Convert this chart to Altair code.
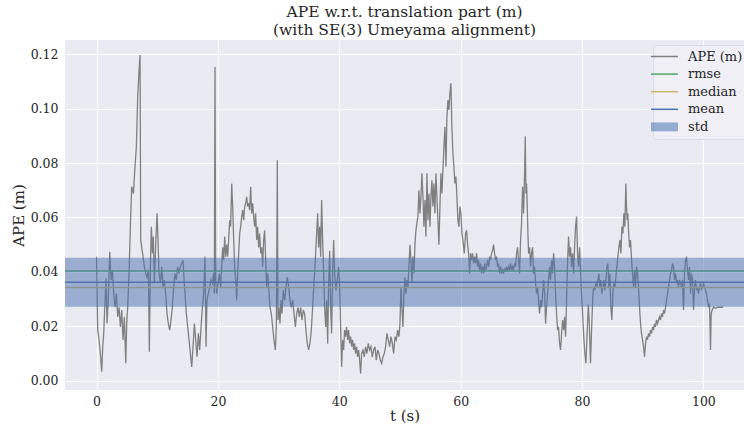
import altair as alt
import pandas as pd

# ---- APE (m) time series, as (t [s], APE [m]) pairs ----
ape_0_20 = [
    (0.0, 0.0456), (0.19, 0.0186), (0.41, 0.015), (0.63, 0.010), (0.85, 0.0033), (1.02, 0.0125),
    (1.18, 0.0174), (1.40, 0.0296), (1.57, 0.0376), (1.73, 0.021), (1.95, 0.031), (2.17, 0.0474),
    (2.39, 0.037), (2.61, 0.0407), (2.83, 0.032), (3.05, 0.027), (3.27, 0.032), (3.49, 0.0235),
    (3.71, 0.027), (3.93, 0.0198), (4.15, 0.026), (4.37, 0.015), (4.59, 0.0235), (4.81, 0.0064),
    (4.97, 0.021), (5.13, 0.027), (5.35, 0.0394), (5.57, 0.0566), (5.79, 0.0713), (6.07, 0.0688),
    (6.34, 0.0786), (6.56, 0.086), (6.78, 0.104), (7.00, 0.114), (7.17, 0.1197), (7.28, 0.0517),
    (7.44, 0.049), (7.66, 0.0456), (7.88, 0.0419), (8.10, 0.0394), (8.32, 0.038), (8.54, 0.0407),
    (8.70, 0.0107), (8.87, 0.0419), (9.03, 0.0566), (9.20, 0.0468), (9.36, 0.053), (9.53, 0.0358),
    (9.75, 0.050), (9.97, 0.0615), (10.13, 0.0517), (10.30, 0.0394), (10.52, 0.0358), (10.74, 0.0419),
    (10.96, 0.0345), (11.17, 0.037), (11.39, 0.032), (11.61, 0.0247), (11.83, 0.021), (12.05, 0.0186),
    (12.27, 0.0223), (12.49, 0.027), (12.71, 0.0345), (12.93, 0.0394), (13.15, 0.037), (13.37, 0.0419),
    (13.59, 0.0394), (13.81, 0.0419), (14.03, 0.0431), (14.25, 0.0443), (14.42, 0.037), (14.58, 0.032),
    (14.80, 0.0247), (15.02, 0.0198), (15.24, 0.015), (15.46, 0.010), (15.68, 0.0051), (15.90, 0.0125),
    (16.12, 0.021), (16.34, 0.015), (16.56, 0.0088), (16.78, 0.0174), (17.00, 0.0113), (17.22, 0.0198),
    (17.44, 0.027), (17.65, 0.032), (17.87, 0.0456), (18.04, 0.0125), (18.20, 0.0296), (18.42, 0.032),
    (18.64, 0.0345), (18.86, 0.037), (19.08, 0.0358), (19.30, 0.0394),
]
ape_20_40 = [
    (19.41, 0.032), (19.52, 0.1153), (19.63, 0.037), (19.80, 0.032), (20.02, 0.0358), (20.24, 0.0394),
    (20.46, 0.0345), (20.62, 0.0419), (20.79, 0.049), (20.95, 0.0443), (21.12, 0.053), (21.28, 0.0456),
    (21.45, 0.050), (21.61, 0.0456), (21.77, 0.0517), (21.94, 0.059), (22.10, 0.0566), (22.27, 0.0725),
    (22.43, 0.064), (22.60, 0.0517), (22.76, 0.0419), (22.93, 0.037), (23.09, 0.0296), (23.26, 0.0394),
    (23.42, 0.0468), (23.59, 0.0541), (23.75, 0.0566), (23.92, 0.0603), (24.08, 0.0627), (24.25, 0.059),
    (24.41, 0.064), (24.57, 0.0652), (24.74, 0.0676), (24.90, 0.064), (25.07, 0.0652), (25.23, 0.0627),
    (25.40, 0.0713), (25.56, 0.0615), (25.73, 0.0652), (25.89, 0.0603), (26.06, 0.0566), (26.22, 0.0615),
    (26.39, 0.0517), (26.55, 0.0566), (26.72, 0.049), (26.88, 0.0541), (27.05, 0.0468), (27.21, 0.049),
    (27.37, 0.0419), (27.54, 0.0517), (27.70, 0.0553), (27.87, 0.0443), (28.03, 0.0345), (28.20, 0.0394),
    (28.36, 0.0345), (28.58, 0.027), (28.80, 0.0247), (29.02, 0.0198), (29.24, 0.015), (29.46, 0.0113),
    (29.63, 0.0198), (29.79, 0.081), (29.90, 0.0223), (30.07, 0.027), (30.23, 0.021), (30.40, 0.0296),
    (30.56, 0.0247), (30.78, 0.0333), (31.00, 0.0296), (31.22, 0.0345), (31.44, 0.038), (31.66, 0.0345),
    (31.88, 0.0296), (32.10, 0.027), (32.32, 0.0296), (32.54, 0.0247), (32.76, 0.0198), (32.98, 0.0247),
    (33.20, 0.027), (33.42, 0.0235), (33.64, 0.027), (33.85, 0.0223), (34.07, 0.026), (34.29, 0.0247),
    (34.51, 0.0186), (34.73, 0.0137), (34.95, 0.0113), (35.17, 0.0137), (35.39, 0.0186), (35.61, 0.027),
    (35.83, 0.0358), (36.05, 0.0443), (36.27, 0.0541), (36.44, 0.0615), (36.60, 0.049), (36.77, 0.0566),
    (36.93, 0.0456), (37.09, 0.0664), (37.26, 0.0517), (37.43, 0.0394), (37.59, 0.027), (37.76, 0.0198),
    (37.92, 0.0296), (38.09, 0.0137), (38.25, 0.0358), (38.42, 0.0478), (38.58, 0.027), (38.74, 0.0174),
    (38.91, 0.0394), (39.07, 0.0517), (39.24, 0.0394), (39.45, 0.0333), (39.67, 0.037), (39.89, 0.0419),
]
ape_40_60 = [
    (40.06, 0.0345), (40.22, 0.0198), (40.39, 0.0051), (40.55, 0.015), (40.72, 0.0113), (40.88, 0.0186),
    (41.05, 0.0162), (41.21, 0.0198), (41.38, 0.015), (41.54, 0.0186), (41.71, 0.0137), (41.87, 0.0162),
    (42.04, 0.0125), (42.20, 0.015), (42.37, 0.0113), (42.53, 0.0137), (42.69, 0.010), (42.86, 0.0125),
    (43.02, 0.0088), (43.19, 0.0113), (43.35, 0.0076), (43.52, 0.0027), (43.68, 0.010), (43.90, 0.0113),
    (44.12, 0.0088), (44.34, 0.0125), (44.56, 0.010), (44.78, 0.0137), (45.00, 0.0113), (45.22, 0.0125),
    (45.44, 0.0088), (45.66, 0.0113), (45.88, 0.0125), (46.10, 0.0076), (46.32, 0.0113), (46.54, 0.010),
    (46.76, 0.0076), (46.98, 0.0064), (47.20, 0.0088), (47.42, 0.010), (47.64, 0.0125), (47.86, 0.0174),
    (48.08, 0.015), (48.30, 0.0125), (48.52, 0.0162), (48.74, 0.0137), (48.96, 0.010), (49.18, 0.0162),
    (49.40, 0.015), (49.62, 0.0186), (49.84, 0.0162), (50.00, 0.021), (50.17, 0.0345), (50.33, 0.027),
    (50.49, 0.0198), (50.66, 0.032), (50.82, 0.038), (50.99, 0.032), (51.15, 0.037), (51.32, 0.0345),
    (51.48, 0.0419), (51.65, 0.050), (51.81, 0.0443), (51.98, 0.0358), (52.14, 0.0456), (52.31, 0.0394),
    (52.47, 0.050), (52.63, 0.0553), (52.80, 0.0578), (52.96, 0.0603), (53.13, 0.070), (53.29, 0.0615),
    (53.46, 0.0676), (53.62, 0.0762), (53.79, 0.0676), (53.95, 0.0566), (54.12, 0.0664), (54.28, 0.053),
    (54.45, 0.0762), (54.61, 0.059), (54.78, 0.0688), (54.94, 0.0566), (55.11, 0.0676), (55.27, 0.0737),
    (55.43, 0.064), (55.60, 0.0725), (55.76, 0.0615), (55.93, 0.0762), (56.09, 0.0676), (56.26, 0.059),
    (56.42, 0.050), (56.59, 0.064), (56.75, 0.0762), (56.92, 0.0688), (57.08, 0.0774), (57.25, 0.086),
    (57.41, 0.0933), (57.58, 0.0786), (57.74, 0.097), (57.91, 0.1031), (58.07, 0.0995), (58.23, 0.1056),
    (58.40, 0.1093), (58.56, 0.0933), (58.73, 0.0835), (58.89, 0.0786), (59.06, 0.0725), (59.22, 0.075),
    (59.39, 0.0676), (59.55, 0.059), (59.72, 0.0566), (59.88, 0.064), (60.05, 0.0615), (60.21, 0.0541),
    (60.38, 0.0517), (60.60, 0.0468),
]
ape_60_80 = [
    (60.82, 0.0541), (60.98, 0.0553), (61.15, 0.050), (61.31, 0.0468), (61.48, 0.0394), (61.64, 0.0468),
    (61.81, 0.0443), (61.97, 0.0468), (62.14, 0.0431), (62.30, 0.0456), (62.47, 0.0431), (62.63, 0.0468),
    (62.80, 0.0419), (62.96, 0.0443), (63.12, 0.0407), (63.29, 0.0431), (63.45, 0.0394), (63.62, 0.0419),
    (63.78, 0.0394), (63.95, 0.0431), (64.11, 0.0407), (64.28, 0.0419), (64.44, 0.0443), (64.61, 0.0419),
    (64.77, 0.0456), (64.94, 0.0443), (65.10, 0.0468), (65.27, 0.048), (65.43, 0.050), (65.60, 0.0468),
    (65.76, 0.0443), (65.93, 0.0456), (66.09, 0.0419), (66.25, 0.0431), (66.42, 0.0394), (66.58, 0.0419),
    (66.75, 0.0394), (66.91, 0.0407), (67.08, 0.0394), (67.24, 0.0413), (67.41, 0.040), (67.57, 0.0419),
    (67.74, 0.0407), (67.90, 0.0419), (68.07, 0.0407), (68.23, 0.0431), (68.40, 0.0407), (68.56, 0.0419),
    (68.72, 0.0407), (68.89, 0.0431), (69.05, 0.0419), (69.22, 0.0468), (69.38, 0.049), (69.55, 0.0443),
    (69.71, 0.0394), (69.88, 0.0517), (70.04, 0.0578), (70.21, 0.0713), (70.37, 0.0615), (70.54, 0.0762),
    (70.65, 0.0897), (70.76, 0.0688), (70.87, 0.0725), (70.98, 0.064), (71.09, 0.0541), (71.20, 0.0468),
    (71.37, 0.049), (71.53, 0.0419), (71.69, 0.0468), (71.86, 0.049), (72.02, 0.0394), (72.19, 0.0419),
    (72.35, 0.0358), (72.52, 0.032), (72.68, 0.0345), (72.85, 0.0296), (73.01, 0.0247), (73.18, 0.0296),
    (73.34, 0.027), (73.51, 0.032), (73.67, 0.037), (73.84, 0.032), (74.00, 0.021), (74.16, 0.027),
    (74.33, 0.032), (74.49, 0.037), (74.66, 0.0419), (74.82, 0.037), (74.99, 0.0443), (75.15, 0.0394),
    (75.32, 0.0468), (75.48, 0.0419), (75.65, 0.032), (75.81, 0.0247), (75.98, 0.0186), (76.14, 0.0198),
    (76.31, 0.0137), (76.47, 0.0113), (76.64, 0.0174), (76.80, 0.0223), (76.97, 0.0186), (77.13, 0.0235),
    (77.30, 0.0162), (77.46, 0.0296), (77.62, 0.0431), (77.79, 0.053), (77.95, 0.0456), (78.12, 0.049),
    (78.28, 0.0419), (78.45, 0.0468), (78.61, 0.0394), (78.78, 0.049), (78.94, 0.0566), (79.11, 0.0603),
    (79.27, 0.0468), (79.44, 0.0419), (79.60, 0.049), (79.77, 0.0394), (79.93, 0.032), (80.10, 0.0247),
    (80.26, 0.0174), (80.43, 0.0113),
]
ape_80_end = [
    (80.64, 0.0064), (80.86, 0.018), (81.05, 0.028), (81.22, 0.020), (81.40, 0.0064), (81.60, 0.020),
    (81.80, 0.032), (81.96, 0.0345), (82.13, 0.0333), (82.29, 0.0358), (82.46, 0.0345), (82.62, 0.037),
    (82.79, 0.0394), (82.95, 0.0345), (83.11, 0.037), (83.28, 0.032), (83.44, 0.0345), (83.61, 0.037),
    (83.77, 0.0333), (83.94, 0.037), (84.10, 0.0419), (84.27, 0.0431), (84.43, 0.0345), (84.60, 0.0394),
    (84.76, 0.027), (84.93, 0.0223), (85.09, 0.032), (85.26, 0.0358), (85.42, 0.0345), (85.59, 0.038),
    (85.75, 0.0419), (85.92, 0.0456), (86.08, 0.049), (86.25, 0.0517), (86.41, 0.0468), (86.58, 0.0566),
    (86.74, 0.0541), (86.91, 0.0615), (87.07, 0.0566), (87.23, 0.0725), (87.34, 0.064), (87.45, 0.059),
    (87.56, 0.0615), (87.67, 0.0553), (87.84, 0.049), (88.00, 0.0517), (88.17, 0.0443), (88.33, 0.0394),
    (88.50, 0.0345), (88.66, 0.0407), (88.83, 0.0345), (88.99, 0.0419), (89.15, 0.0394), (89.32, 0.0345),
    (89.48, 0.027), (89.65, 0.021), (89.81, 0.0174), (89.98, 0.015), (90.14, 0.0125), (90.31, 0.0088),
    (90.47, 0.0137), (90.64, 0.0162), (90.80, 0.015), (90.97, 0.0174), (91.13, 0.0162), (91.30, 0.0186),
    (91.46, 0.0174), (91.63, 0.0198), (91.79, 0.0186), (91.95, 0.021), (92.12, 0.0198), (92.28, 0.0223),
    (92.45, 0.021), (92.61, 0.0223), (92.78, 0.0235), (92.94, 0.0223), (93.11, 0.0247), (93.27, 0.0235),
    (93.44, 0.026), (93.60, 0.0247), (93.77, 0.027), (93.93, 0.0296), (94.10, 0.032), (94.26, 0.0345),
    (94.43, 0.037), (94.59, 0.0394), (94.76, 0.0407), (94.92, 0.0431), (95.08, 0.0419), (95.25, 0.037),
    (95.41, 0.0394), (95.58, 0.0358), (95.74, 0.037), (95.91, 0.0345), (96.07, 0.037), (96.24, 0.0358),
    (96.40, 0.0345), (96.57, 0.037), (96.73, 0.026), (96.90, 0.0394), (97.06, 0.0443), (97.23, 0.0456),
    (97.39, 0.0407), (97.56, 0.037), (97.72, 0.0419), (97.89, 0.032), (98.05, 0.0394), (98.22, 0.037),
    (98.38, 0.026), (98.55, 0.0345), (98.71, 0.037), (98.87, 0.0333), (99.04, 0.0345), (99.20, 0.032),
    (99.37, 0.0345), (99.53, 0.0358), (99.70, 0.0333), (99.86, 0.0345), (100.03, 0.0358), (100.19, 0.0345),
    (100.36, 0.0333), (100.52, 0.032), (100.69, 0.0296), (100.85, 0.027), (101.02, 0.0284), (101.18, 0.0113),
    (101.29, 0.0247), (101.46, 0.026), (101.68, 0.027), (102.01, 0.0266), (102.45, 0.027), (102.89, 0.027),
    (103.27, 0.027),
]

# ---- statistics lines ----
stat_names = ["rmse", "median", "mean"]
stat_values = [0.0403, 0.0343, 0.0362]
std_low, std_high = 0.0272, 0.0452

# ---- legend / colours ----
series_names = ["APE (m)", "rmse", "median", "mean", "std"]
series_colors = ["#808080", "#55A868", "#CCB974", "#4C72B0", "#4C72B0"]

x_ticks = [0, 20, 40, 60, 80, 100]
y_ticks = [0.00, 0.02, 0.04, 0.06, 0.08, 0.10, 0.12]
x_domain = [-5.2, 106.7]
y_domain = [-0.0034, 0.1252]

FONT = "DejaVu Serif"
TXT = "#262626"

ape_pts = ape_0_20 + ape_20_40 + ape_40_60 + ape_60_80 + ape_80_end
ape_df = pd.DataFrame(ape_pts, columns=["t", "ape"])
ape_df["series"] = "APE (m)"
stat_df = pd.DataFrame({"series": stat_names, "value": stat_values})
std_df = pd.DataFrame({"series": ["std"], "lo": [std_low], "hi": [std_high]})

color = alt.Color(
    "series:N",
    scale=alt.Scale(domain=series_names, range=series_colors),
    legend=alt.Legend(
        title=None,
        orient="none",
        legendX=588,
        legendY=5,
        symbolType=alt.ExprRef(expr="datum.value === 'std' ? 'M-1,-0.33H1V0.33H-1Z' : 'stroke'"),
        symbolSize=729,
        symbolStrokeWidth=alt.ExprRef(expr="datum.value === 'std' ? 0 : 1.5"),
        symbolFillColor=alt.ExprRef(expr="datum.value === 'std' ? '#4C72B0' : 'transparent'"),
        symbolOpacity=alt.ExprRef(expr="datum.value === 'std' ? 0.55 : 1"),
        labelFont=FONT,
        labelFontSize=13,
        labelColor=TXT,
        labelOffset=17,
        rowPadding=3.6,
        padding=5,
        fillColor="#EFEFF5",
        strokeColor="#DCDCE4",
        cornerRadius=3,
    ),
)

x_scale = alt.Scale(domain=x_domain, nice=False, zero=False)
y_scale = alt.Scale(domain=y_domain, nice=False, zero=False)

line = alt.Chart(ape_df).mark_line(strokeWidth=1.3).encode(
    x=alt.X(
        "t:Q",
        scale=x_scale,
        axis=alt.Axis(values=x_ticks, title="t (s)", labelPadding=5, titlePadding=1, format="d"),
    ),
    y=alt.Y(
        "ape:Q",
        scale=y_scale,
        axis=alt.Axis(values=y_ticks, title="APE (m)", format=".2f", labelPadding=7, titlePadding=4),
    ),
    color=color,
)

rules = alt.Chart(stat_df).mark_rule(strokeWidth=1.5).encode(
    y=alt.Y("value:Q", scale=y_scale),
    color=color,
)

band = alt.Chart(std_df).mark_rect(opacity=0.5).encode(
    y=alt.Y("lo:Q", scale=y_scale),
    y2="hi:Q",
    color=color,
)

chart = (
    alt.layer(line, rules, band)
    .properties(
        width=679,
        height=350,
        padding={"left": 65, "top": 40, "right": 0, "bottom": 37},
        autosize=alt.AutoSizeParams(type="none"),
        title=alt.Title(
            ["APE w.r.t. translation part (m)", "(with SE(3) Umeyama alignment)"],
            font=FONT,
            fontSize=15.5,
            fontWeight="normal",
            color=TXT,
            lineHeight=18,
            offset=2,
            anchor="middle",
        ),
    )
    .configure(background="white")
    .configure_view(fill="#EAEAF2", stroke=None)
    .configure_axis(
        grid=True,
        gridColor="white",
        gridWidth=1,
        domain=False,
        ticks=False,
        labelFont=FONT,
        labelFontSize=12.5,
        labelColor=TXT,
        titleFont=FONT,
        titleFontSize=15,
        titleFontWeight="normal",
        titleColor=TXT,
    )
)

chart.save("out.html", embed_options={"renderer": "svg", "actions": False})
